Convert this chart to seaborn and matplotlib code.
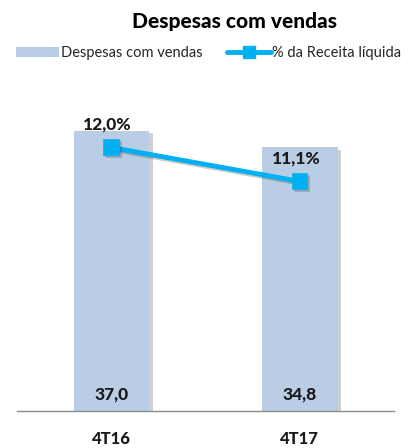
import numpy as np
import pandas as pd
import matplotlib
matplotlib.use("Agg")
import matplotlib.pyplot as plt
import matplotlib.patheffects as pe
from matplotlib.lines import Line2D
from matplotlib.patches import Patch
import seaborn as sns

# data
periodos = ["4T16", "4T17"]
despesas = [37.0, 34.8]
pct_receita = [12.0, 11.1]
lbl_despesas = ["37,0", "34,8"]
lbl_pct = ["12,0%", "11,1%"]

bar_color = "#B9CDE5"
line_color = "#00B0F0"

sns.set_style("white")
plt.rcParams["font.family"] = ["Lato", "DejaVu Sans"]

fig = plt.figure(figsize=(4.17, 4.48), dpi=100)
ax = fig.add_axes([0.041, 0.082, 0.904, 0.677])

df = pd.DataFrame({"periodo": periodos, "despesas": despesas, "pct": pct_receita})

sns.barplot(data=df, x="periodo", y="despesas", color=bar_color, width=0.4,
            saturation=1, linewidth=0, edgecolor="none", ax=ax)
for p in ax.patches:
    p.set_path_effects([pe.SimplePatchShadow(offset=(2.5, -2), alpha=0.3, shadow_rgbFace="#666666"),
                        pe.Normal()])
ax.set_ylim(0, 40)
ax.set_xlim(-0.5, 1.5)

# bar labels near the base
for i, t in enumerate(lbl_despesas):
    ax.text(i, 1.2, t, ha="center", va="bottom", fontsize=12.5, fontweight="black", color="#1a1a1a")

ax2 = ax.twinx()
sns.pointplot(data=df, x="periodo", y="pct", color=line_color, markers="s",
              markersize=9, linewidth=3.5, ax=ax2)
for ln in ax2.lines:
    ln.set_path_effects([pe.SimpleLineShadow(offset=(1.5, -1.5), alpha=0.2), pe.Normal()])
ax2.set_ylim(5, 13.05)
ax2.set_xlim(-0.5, 1.5)
for i, (v, t) in enumerate(zip(pct_receita, lbl_pct)):
    ax2.text(i - 0.02, v + 0.4, t, ha="center", va="bottom", fontsize=12.5,
             fontweight="black", color="#1a1a1a")

for a in (ax, ax2):
    a.set_ylabel("")
    a.set_yticks([])
    for s in ["top", "right", "left", "bottom"]:
        a.spines[s].set_visible(False)
ax.spines["bottom"].set_visible(True)
ax.spines["bottom"].set_color("#8c8c8c")
ax.spines["bottom"].set_linewidth(1)

ax.set_xlabel("")
ax2.set_xlabel("")
ax.tick_params(axis="x", length=0, pad=14)
for lab in ax.get_xticklabels():
    lab.set_fontweight("black")
    lab.set_fontsize(12)
    lab.set_color("#1a1a1a")

fig.text(0.563, 0.953, "Despesas com vendas", ha="center", va="center",
         fontsize=15, fontweight="black", color="black")

handles = [Patch(facecolor=bar_color, edgecolor="none", label="Despesas com vendas"),
           Line2D([0], [0], color=line_color, lw=3.5, marker="s", markersize=8,
                  label="% da Receita líquida")]
fig.legend(handles=handles, loc="center", bbox_to_anchor=(0.5, 0.882), ncol=2,
           frameon=False, fontsize=10.5, handlelength=3.0, handletextpad=0.1,
           columnspacing=1.7, borderpad=0, borderaxespad=0)

fig.savefig("out.png", dpi=100)
